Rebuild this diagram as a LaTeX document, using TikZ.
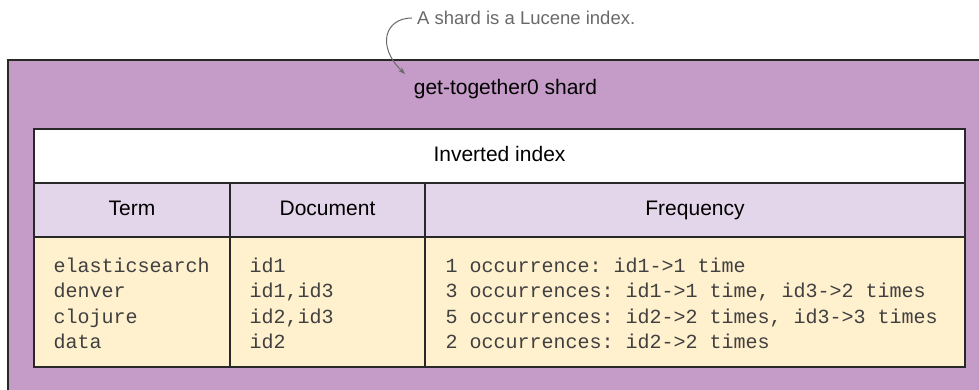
\documentclass[tikz,border=0pt]{standalone}
\usepackage{fontspec}
\setmainfont{Liberation Sans}
\setmonofont{Liberation Mono}
\usetikzlibrary{arrows.meta}
\definecolor{shardpurple}{RGB}{197,155,200}
\definecolor{headlilac}{RGB}{228,214,234}
\definecolor{bodycream}{RGB}{255,240,206}
\definecolor{linegray}{RGB}{40,40,40}
\definecolor{notegray}{RGB}{105,105,105}

\begin{document}
\begin{tikzpicture}[x=1pt,y=-1pt,
    cell/.style={draw=linegray,line width=1.2pt,inner sep=0pt,minimum height=54pt,text height=15pt,text depth=4pt,font=\fontsize{21}{25}\selectfont},
    headcell/.style={cell,fill=headlilac},
    bodycell/.style={cell,fill=bodycream,minimum height=130pt},
    bodytext/.style={anchor=west,inner sep=0pt,align=left,text=black!75,font=\ttfamily\fontsize{20}{25.5}\selectfont}]
  \useasboundingbox (0,0) rectangle (979,390);
  \clip (0,0) rectangle (979,390);
  % the shard
  \draw[draw=linegray,line width=1.2pt,fill=shardpurple] (8,60) rectangle (995,405);
  \draw
    (505.5,89) node[font=\fontsize{21}{25}\selectfont,text height=15pt,text depth=4pt] (shard){get-together0 shard}
    (499.5,156) node[cell,fill=white,minimum width=931pt] (inverted){Inverted index}
    (132,210) node[headcell,minimum width=196pt] (term){Term}
    (327.5,210) node[headcell,minimum width=195pt] (doc){Document}
    (695,210) node[headcell,minimum width=540pt] (freq){Frequency}
    (132,302) node[bodycell,minimum width=196pt] (termbody){}
    (327.5,302) node[bodycell,minimum width=195pt] (docbody){}
    (695,302) node[bodycell,minimum width=540pt] (freqbody){};
  \node[bodytext] (terms) at ([xshift=20pt,yshift=-1.5pt]termbody.west)
    {elasticsearch\\denver\\clojure\\data};
  \node[bodytext] (docs) at ([xshift=20pt,yshift=-1.5pt]docbody.west)
    {id1\\id1,id3\\id2,id3\\id2};
  \node[bodytext] (freqs) at ([xshift=21pt,yshift=-1.5pt]freqbody.west)
    {1 occurrence: id1->1 time\\3 occurrences: id1->1 time, id3->2 times\\5 occurrences: id2->2 times, id3->3 times\\2 occurrences: id2->2 times};
  % note
  \node[anchor=west,inner sep=0pt,text=notegray,font=\fontsize{18.5}{22}\selectfont] (note) at (417,18) {A shard is a Lucene index.};
  \coordinate (tip) at (405,74);
  \draw[notegray,line width=1pt,-{Stealth[length=7pt,width=5pt]}] ([xshift=-5pt]note.west) .. controls (385,18) and (376,46) .. (tip);
\end{tikzpicture}
\end{document}
